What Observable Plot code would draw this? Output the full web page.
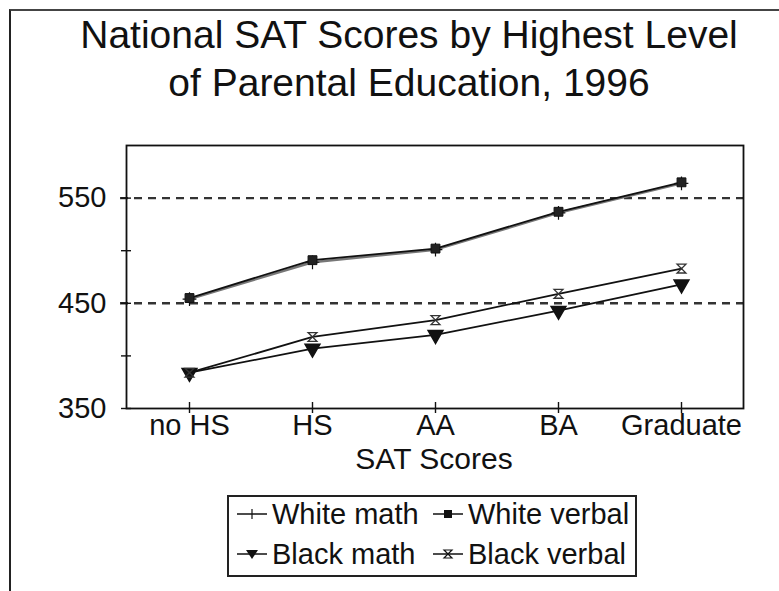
<!DOCTYPE html>
<html>
<head>
<meta charset="utf-8">
<script src="https://cdn.jsdelivr.net/npm/d3@7"></script>
<script src="https://cdn.jsdelivr.net/npm/@observablehq/plot@0.6"></script>
<style>
  html, body { margin: 0; padding: 0; background: #fff; }
  #wrap { position: relative; width: 779px; height: 591px; overflow: hidden; font-family: "Liberation Sans", Arial, sans-serif; color: #111; }
  #border { position: absolute; left: 9px; top: 9px; width: 780px; height: 600px; border-top: 2px solid #444; border-left: 2px solid #222; }
  .title { position: absolute; left: 0; width: 818px; text-align: center; font-size: 39px; line-height: 1; white-space: nowrap; }
  #chart { position: absolute; left: 0; top: 0; }
  #xlabel { position: absolute; left: 334px; width: 200px; text-align: center; top: 442px; font-size: 30px; line-height: 1.12; }
  #legend { position: absolute; left: 227px; top: 495px; width: 410px; height: 82px; border: 2px solid #222; box-sizing: border-box; }
  .item { position: absolute; font-size: 29px; line-height: 1; white-space: nowrap; display: flex; align-items: center; }
  .item svg { margin-right: 5px; }
</style>
</head>
<body>
<div id="wrap">
  <div id="border"></div>
  <div class="title" style="top:15px;">National SAT Scores by Highest Level</div>
  <div class="title" style="top:63px;">of Parental Education, 1996</div>
  <div id="chart"></div>
  <div id="xlabel">SAT Scores</div>
  <div id="legend"></div>
</div>
<script>
const categories = ["no HS", "HS", "AA", "BA", "Graduate"];
const whiteMath = [454, 489, 501, 536, 564];
const whiteVerbal = [455, 491, 502, 537, 565];
const blackMath = [384, 407, 420, 443, 468];
const blackVerbal = [384, 418, 434, 459, 483];
const seriesNames = ["White math", "White verbal", "Black math", "Black verbal"];
const yTicks = [350, 450, 550];
const yMinorTicks = [400, 500];
const gridValues = [450, 550];

const seriesValues = [whiteMath, whiteVerbal, blackMath, blackVerbal];
const data = seriesNames.flatMap((s, k) => categories.map((c, i) => ({series: s, cat: c, v: seriesValues[k][i]})));
const bySeries = s => data.filter(d => d.series === s);

const hourglass = {
  draw(ctx, size) {
    const r = Math.sqrt(size) / 2;
    ctx.moveTo(-r, -r);
    ctx.lineTo(r, -r);
    ctx.lineTo(-r, r);
    ctx.lineTo(r, r);
    ctx.closePath();
  }
};

const W = 779, H = 480;
const mL = 126, mR = 36, mT = 145, mB = 72;
const plotH = H - mT - mB, plotW = W - mL - mR;

const chart = Plot.plot({
  width: W,
  height: H,
  marginLeft: mL,
  marginRight: mR,
  marginTop: mT,
  marginBottom: mB,
  style: {fontFamily: "'Liberation Sans', Arial, sans-serif", background: "transparent", color: "#111"},
  x: {type: "point", domain: categories, padding: 0.5},
  y: {domain: [350, 600]},
  marks: [
    Plot.ruleY(gridValues, {stroke: "#333", strokeWidth: 2.4, strokeDasharray: "8,6", insetLeft: -6}),
    Plot.frame({stroke: "#111", strokeWidth: 1.8}),
    Plot.ruleY([...yTicks, ...yMinorTicks], {stroke: "#111", strokeWidth: 1.4, insetLeft: -5, insetRight: plotW - 5}),
    Plot.ruleX(categories, {stroke: "#111", strokeWidth: 1.4, insetBottom: -5, insetTop: plotH - 6}),
    Plot.axisY(yTicks, {tickSize: 0, tickPadding: 20, fontSize: 29, label: null}),
    Plot.axisX({tickSize: 0, tickPadding: 6, fontSize: 29, label: null}),
    Plot.line(bySeries("White math"), {x: "cat", y: "v", stroke: "#777", strokeWidth: 2.5}),
    Plot.line(bySeries("White verbal"), {x: "cat", y: "v", stroke: "#111", strokeWidth: 1.8}),
    Plot.line(bySeries("Black math"), {x: "cat", y: "v", stroke: "#111", strokeWidth: 1.8}),
    Plot.line(bySeries("Black verbal"), {x: "cat", y: "v", stroke: "#111", strokeWidth: 1.8}),
    Plot.dot(bySeries("White math"), {x: "cat", y: "v", symbol: "plus", r: 4.5, stroke: "#111", strokeWidth: 1.2}),
    Plot.dot(bySeries("White verbal"), {x: "cat", y: "v", symbol: "square", r: 5, fill: "#222", stroke: "#111", strokeWidth: 1}),
    Plot.dot(bySeries("Black math"), {x: "cat", y: "v", symbol: "triangle", rotate: 180, r: 5.5, fill: "#111", stroke: "#111"}),
    Plot.dot(bySeries("Black verbal"), {x: "cat", y: "v", symbol: hourglass, r: 5, fill: "none", stroke: "#333", strokeWidth: 1.3})
  ]
});
document.getElementById("chart").append(chart);

// Legend
const legendSym = {
  "White math": '<line x1="0" y1="10" x2="30" y2="10" stroke="#111" stroke-width="1.5"/><line x1="15" y1="5" x2="15" y2="15" stroke="#111" stroke-width="1.2"/>',
  "White verbal": '<line x1="0" y1="10" x2="30" y2="10" stroke="#111" stroke-width="1.5"/><rect x="11" y="6" width="8" height="8" fill="#111"/>',
  "Black math": '<line x1="0" y1="10" x2="30" y2="10" stroke="#111" stroke-width="1.5"/><path d="M9,6 L21,6 L15,15 Z" fill="#111"/>',
  "Black verbal": '<line x1="0" y1="10" x2="30" y2="10" stroke="#111" stroke-width="1.5"/><path d="M11,6 L19,6 L11,14 L19,14 Z" fill="none" stroke="#111" stroke-width="1.2"/>'
};
const legendPos = {
  "White math": [8, 1],
  "White verbal": [204, 1],
  "Black math": [8, 41],
  "Black verbal": [204, 41]
};
const legend = document.getElementById("legend");
for (const s of seriesNames) {
  const el = document.createElement("div");
  el.className = "item";
  el.style.left = legendPos[s][0] + "px";
  el.style.top = legendPos[s][1] + "px";
  el.style.height = "32px";
  el.innerHTML = `<svg width="30" height="20">${legendSym[s]}</svg><span>${s}</span>`;
  legend.append(el);
}
</script>
</body>
</html>
